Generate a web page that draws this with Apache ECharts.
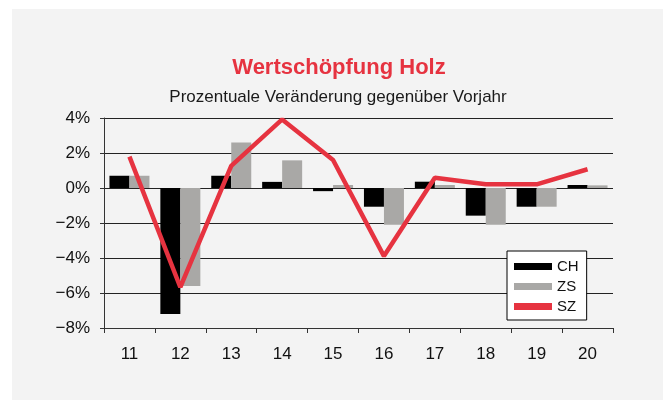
<!DOCTYPE html>
<html><head><meta charset="utf-8">
<script src="https://cdn.jsdelivr.net/npm/echarts@6/dist/echarts.min.js"></script>
<style>html,body{margin:0;padding:0;background:#fff}#c{width:668px;height:400px}</style>
</head><body><div id="c"></div>
<script>
const categories = ['11','12','13','14','15','16','17','18','19','20'];
const CH = [0.7, -7.2, 0.7, 0.35, -0.18, -1.07, 0.36, -1.58, -1.07, 0.17];
const ZS = [0.7, -5.6, 2.6, 1.58, 0.17, -2.1, 0.17, -2.1, -1.07, 0.15];
const SZ = [1.79, -5.67, 1.26, 3.92, 1.6, -3.89, 0.59, 0.21, 0.21, 1.07];
const yTicks = [-8, -6, -4, -2, 0, 2, 4];
const FONT = 'Liberation Sans';
const chart = echarts.init(document.getElementById('c'), null, {renderer:'canvas'});
chart.setOption({
  backgroundColor: '#ffffff',
  animation: false,
  textStyle: {fontFamily: FONT},
  graphic: [{type:'rect', z:-10, shape:{x:12,y:9,width:651,height:391}, style:{fill:'#f3f3f3'}}],
  title: [
    {text:'Wertschöpfung Holz', left: 334, top: 52, textAlign:'center',
     textStyle:{color:'#e63340', fontSize:22, fontWeight:'bold', fontFamily: FONT}},
    {text:'Prozentuale Veränderung gegenüber Vorjahr', left: 333, top: 84, textAlign:'center',
     textStyle:{color:'#1a1a1a', fontSize:17, fontWeight:'normal', fontFamily: FONT}}
  ],
  grid: {left:104, top:118, width:509, height:210, containLabel:false},
  legend: {
    orient:'vertical', left:507, top:251, backgroundColor:'#ffffff', borderColor:'#000', borderWidth:1,
    padding:[8,8,6,7], itemGap:5, itemWidth:38, itemHeight:7, icon:'rect',
    textStyle:{fontSize:15, color:'#111', fontFamily: FONT},
    data:['CH','ZS','SZ']
  },
  xAxis: {
    type:'category', data: categories, boundaryGap:true,
    axisLine:{onZero:false, lineStyle:{color:'#333', width:1}},
    axisTick:{show:true, inside:false, length:5, lineStyle:{color:'#333'}},
    axisLabel:{fontSize:17, color:'#111', margin:18, fontFamily: FONT}
  },
  yAxis: {
    type:'value', min:-8, max:4, interval:2,
    axisLine:{show:true, lineStyle:{color:'#333'}},
    axisTick:{show:true, length:4, lineStyle:{color:'#333'}},
    splitLine:{show:true, lineStyle:{color:'#222', width:1}},
    axisLabel:{fontSize:17, color:'#111', margin:14, fontFamily: FONT,
      formatter: v => (v < 0 ? '\u2212' + Math.abs(v) : v) + '%'}
  },
  series: [
    {name:'CH', type:'bar', data: CH, barWidth:20, barGap:'0%', itemStyle:{color:'#000000'}, z:2},
    {name:'ZS', type:'bar', data: ZS, barWidth:20, barGap:'0%', itemStyle:{color:'#a9a8a6'}, z:2},
    {name:'SZ', type:'line', data: SZ, symbol:'none', lineStyle:{color:'#e63340', width:4.5}, itemStyle:{color:'#e63340'}, z:5}
  ]
});
</script></body></html>
